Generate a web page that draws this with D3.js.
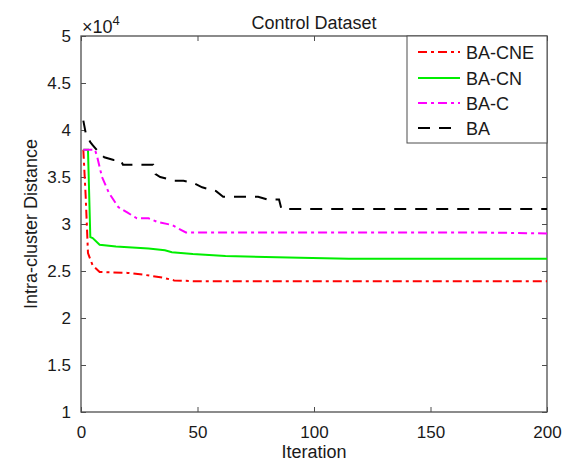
<!DOCTYPE html>
<html>
<head>
<meta charset="utf-8">
<script src="https://cdn.jsdelivr.net/npm/d3@7"></script>
<style>
  body { margin: 0; background: #fff; }
  svg { font-family: "Liberation Sans", Arial, sans-serif; }
</style>
</head>
<body>
<svg id="chart" width="573" height="463"></svg>
<script>
// data (iteration, distance)
const baIter   = [1, 2, 4, 5, 8, 10, 14, 17, 18, 31, 32, 34, 40, 44, 48, 52, 58, 61, 76, 80, 85, 86, 200];
const baVal    = [41000, 39700, 38700, 38400, 37500, 37100, 36800, 36800, 36300, 36300, 35300, 35000, 34600, 34600, 34400, 33900, 33500, 32900, 32900, 32600, 32600, 31600, 31600];

const bacIter  = [1, 6, 7, 9, 12, 16, 20, 24, 29, 33, 39, 45, 170, 200];
const bacVal   = [37900, 37900, 37100, 35000, 33300, 31800, 31200, 30600, 30600, 30200, 29900, 29100, 29100, 29000];

const bacnIter = [1, 3, 4, 5, 8, 15, 29, 36, 39, 48, 62, 94, 115, 200];
const bacnVal  = [37900, 37900, 28600, 28500, 27800, 27600, 27400, 27200, 27000, 26800, 26600, 26400, 26300, 26300];

const bacneIter = [1, 2, 3, 5, 8, 20, 27, 35, 40, 50, 200];
const bacneVal  = [37900, 33000, 26900, 25600, 24900, 24800, 24600, 24300, 24000, 23900, 23900];

const xTicks = [0, 50, 100, 150, 200];
const yTicks = [10000, 15000, 20000, 25000, 30000, 35000, 40000, 45000, 50000];

const seriesNames = ["BA-CNE", "BA-CN", "BA-C", "BA"];
const seriesColors = ["#ff0000", "#00ee00", "#ff00ff", "#000000"];
const seriesDash = ["9,4,3,4", null, "9,4,3,4", "12,9"];

const svg = d3.select("#chart");
const mLeft = 81, mRight = 547, mTop = 36, mBottom = 412;
const txtCol = "#1a1a1a";

const x = d3.scaleLinear().domain([0, 200]).range([mLeft, mRight]);
const y = d3.scaleLinear().domain([10000, 50000]).range([mBottom, mTop]);

svg.append("clipPath").attr("id", "clip")
  .append("rect").attr("x", mLeft).attr("y", mTop)
  .attr("width", mRight - mLeft).attr("height", mBottom - mTop);

// axes (matlab box, ticks inside)
const axisCol = "#4d4d4d";
function fmtY(d) { return d3.format("")(d / 10000); }

svg.append("g").attr("transform", `translate(0,${mBottom})`)
  .call(d3.axisBottom(x).tickValues(xTicks).tickSize(-5).tickPadding(14))
  .call(g => g.select(".domain").remove());
svg.append("g").attr("transform", `translate(0,${mTop})`)
  .call(d3.axisTop(x).tickValues(xTicks).tickSize(-5).tickFormat(""))
  .call(g => g.select(".domain").remove());
svg.append("g").attr("transform", `translate(${mLeft},0)`)
  .call(d3.axisLeft(y).tickValues(yTicks).tickSize(-5).tickPadding(10).tickFormat(fmtY))
  .call(g => g.select(".domain").remove());
svg.append("g").attr("transform", `translate(${mRight},0)`)
  .call(d3.axisRight(y).tickValues(yTicks).tickSize(-5).tickFormat(""))
  .call(g => g.select(".domain").remove());

svg.selectAll(".tick line").attr("stroke", axisCol);
svg.selectAll(".tick text").attr("font-size", "17px").attr("fill", txtCol)
  .attr("font-family", "Liberation Sans, Arial, sans-serif");

svg.append("rect")
  .attr("x", mLeft).attr("y", mTop)
  .attr("width", mRight - mLeft).attr("height", mBottom - mTop)
  .attr("fill", "none").attr("stroke", axisCol).attr("stroke-width", 1.3);

// lines
const series = [
  { iter: bacneIter, val: bacneVal },
  { iter: bacnIter, val: bacnVal },
  { iter: bacIter, val: bacVal },
  { iter: baIter, val: baVal }
];
const line = d3.line().x(d => x(d[0])).y(d => y(d[1]));
const plot = svg.append("g").attr("clip-path", "url(#clip)");
series.forEach((s, i) => {
  const pts = s.iter.map((it, j) => [it, s.val[j]]);
  plot.append("path")
    .datum(pts)
    .attr("d", line)
    .attr("fill", "none")
    .attr("stroke", seriesColors[i])
    .attr("stroke-width", 2)
    .attr("stroke-dasharray", seriesDash[i]);
});

// title, labels
svg.append("text").attr("x", (mLeft + mRight) / 2).attr("y", 29)
  .attr("text-anchor", "middle").attr("font-size", "18px").attr("fill", txtCol)
  .text("Control Dataset");
const ex = svg.append("text").attr("x", 82).attr("y", 33).attr("font-size", "18px").attr("fill", txtCol);
ex.append("tspan").text("\u00d710");
ex.append("tspan").attr("dy", -8).attr("font-size", "13px").text("4");

svg.append("text").attr("x", (mLeft + mRight) / 2).attr("y", 458)
  .attr("text-anchor", "middle").attr("font-size", "18px").attr("fill", txtCol)
  .text("Iteration");
svg.append("text")
  .attr("transform", `translate(37,${(mTop + mBottom) / 2}) rotate(-90)`)
  .attr("text-anchor", "middle").attr("font-size", "18px").attr("fill", txtCol)
  .text("Intra-cluster Distance");

// legend
const lg = svg.append("g");
lg.append("rect").attr("x", 407).attr("y", mTop).attr("width", mRight - 407).attr("height", 107)
  .attr("fill", "#fff").attr("stroke", axisCol).attr("stroke-width", 1);
const rowY = [52, 78, 103, 128];
seriesNames.forEach((n, i) => {
  lg.append("line").attr("x1", 418).attr("x2", 460).attr("y1", rowY[i]).attr("y2", rowY[i])
    .attr("stroke", seriesColors[i]).attr("stroke-width", 2)
    .attr("stroke-dasharray", seriesDash[i]);
  lg.append("text").attr("x", 466).attr("y", rowY[i] + 6.5)
    .attr("font-size", "18px").attr("fill", txtCol).text(n);
});
</script>
</body>
</html>
